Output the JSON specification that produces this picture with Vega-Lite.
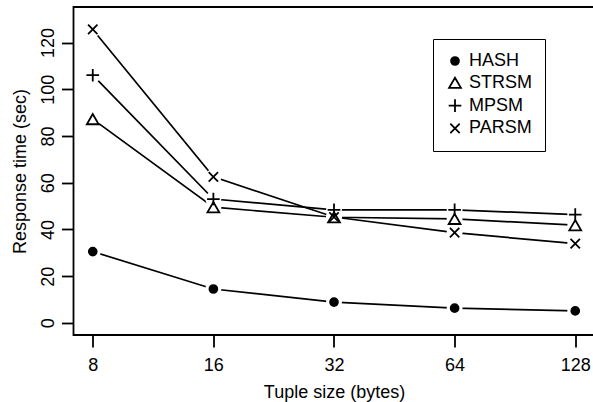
{
  "$schema": "https://vega.github.io/schema/vega-lite/v6.json",
  "width": 521,
  "height": 328,
  "autosize": "none",
  "padding": {"left": 73.5, "top": 7, "right": 0, "bottom": 67},
  "background": "white",
  "config": {
    "font": "Liberation Sans",
    "view": {"stroke": "black", "strokeWidth": 1.8},
    "axis": {
      "domain": false,
      "grid": false,
      "tickSize": 12,
      "tickWidth": 1.8,
      "tickColor": "black",
      "labelColor": "black",
      "labelFontSize": 18,
      "titleFontSize": 18,
      "titleFontWeight": "normal",
      "titleColor": "black",
      "labelFont": "Liberation Sans",
      "titleFont": "Liberation Sans"
    }
  },
  "data": {
    "values": [
      {"series": "HASH", "size": 8, "time": 30.5},
      {"series": "HASH", "size": 16, "time": 14.5},
      {"series": "HASH", "size": 32, "time": 8.9},
      {"series": "HASH", "size": 64, "time": 6.3},
      {"series": "HASH", "size": 128, "time": 5.1},
      {"series": "STRSM", "size": 8, "time": 87.2},
      {"series": "STRSM", "size": 16, "time": 49.5},
      {"series": "STRSM", "size": 32, "time": 45.2},
      {"series": "STRSM", "size": 64, "time": 44.5},
      {"series": "STRSM", "size": 128, "time": 41.8},
      {"series": "MPSM", "size": 8, "time": 106},
      {"series": "MPSM", "size": 16, "time": 53},
      {"series": "MPSM", "size": 32, "time": 48.4},
      {"series": "MPSM", "size": 64, "time": 48.4},
      {"series": "MPSM", "size": 128, "time": 46.3},
      {"series": "PARSM", "size": 8, "time": 125.6},
      {"series": "PARSM", "size": 16, "time": 62.5},
      {"series": "PARSM", "size": 32, "time": 45.3},
      {"series": "PARSM", "size": 64, "time": 38.6},
      {"series": "PARSM", "size": 128, "time": 33.9}
    ]
  },
  "encoding": {
    "x": {
      "field": "size",
      "type": "quantitative",
      "scale": {"type": "log", "base": 2, "domain": [7.162, 142.98], "nice": false},
      "axis": {
        "values": [8, 16, 32, 64, 128],
        "format": "d",
        "title": "Tuple size (bytes)",
        "labelPadding": 23,
        "labelBaseline": "alphabetic",
        "labelAlign": "center",
        "titleY": 62,
        "titleBaseline": "alphabetic"
      }
    },
    "y": {
      "field": "time",
      "type": "quantitative",
      "scale": {"domain": [-5.2, 135.2], "nice": false, "zero": false},
      "axis": {
        "values": [0, 20, 40, 60, 80, 100, 120],
        "title": "Response time (sec)",
        "labelAngle": 270,
        "labelAlign": "center",
        "labelBaseline": "alphabetic",
        "labelPadding": 8.5,
        "titleAngle": 270,
        "titleX": -48,
        "titleY": 164,
        "titleAlign": "center",
        "titleBaseline": "alphabetic"
      }
    }
  },
  "layer": [
    {
      "mark": {"type": "line", "color": "black", "strokeWidth": 1.7},
      "encoding": {"detail": {"field": "series", "type": "nominal"}}
    },
    {
      "mark": {"type": "point", "shape": "circle", "filled": true, "color": "white", "size": 254, "opacity": 1}
    },
    {
      "mark": {"type": "point", "stroke": "black", "strokeWidth": 1.8, "opacity": 1},
      "encoding": {
        "shape": {
          "field": "series",
          "type": "nominal",
          "scale": {
            "domain": ["HASH", "STRSM", "MPSM", "PARSM"],
            "range": ["circle", "triangle-up", "M-1,0H1M0,-1V1", "M-1,-1L1,1M-1,1L1,-1"]
          },
          "legend": {
            "orient": "none",
            "legendX": 359.5,
            "legendY": 32,
            "title": null,
            "strokeColor": "black",
            "padding": 13,
            "labelFontSize": 18,
            "labelColor": "black",
            "labelFont": "Liberation Sans",
            "labelOffset": 5,
            "rowPadding": 3.8,
            "symbolStrokeColor": "black",
            "symbolStrokeWidth": 1.8,
            "encode": {"legend": {"update": {"strokeWidth": {"value": 1.8}}}}
          }
        },
        "fill": {
          "field": "series",
          "type": "nominal",
          "scale": {
            "domain": ["HASH", "STRSM", "MPSM", "PARSM"],
            "range": ["black", "transparent", "transparent", "transparent"]
          }
        },
        "size": {
          "field": "series",
          "type": "nominal",
          "scale": {
            "type": "ordinal",
            "domain": ["HASH", "STRSM", "MPSM", "PARSM"],
            "range": [62, 140, 160, 88]
          }
        }
      }
    }
  ]
}
